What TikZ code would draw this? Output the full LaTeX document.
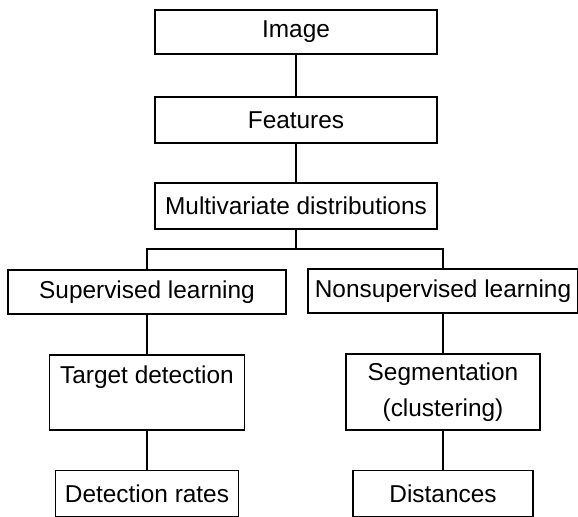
\documentclass[tikz,border=0pt]{standalone}
\usepackage{fontspec}
\setmainfont{Liberation Sans}
\usetikzlibrary{positioning,calc}

\tikzset{
  box/.style={draw, line width=0.8pt, inner sep=0pt, align=center,
    font=\fontsize{12.2}{18}\selectfont},
  link/.style={line width=0.7pt}
}

\begin{document}
\begin{tikzpicture}[x=0.5pt, y=-0.5pt]
    % frame of the page
    \useasboundingbox (0,0) rectangle (578,517);

    % top chain
    \node[box, minimum width=141pt, minimum height=22pt] (image) at (296, 32) {Image};
    \node[box, minimum width=141pt, minimum height=23pt] (features) at (296, 120) {Features};
    \node[box, minimum width=141pt, minimum height=23pt] (multi) at (296, 206) {Multivariate distributions};

    % two kinds of learning
    \node[box, minimum width=139pt, minimum height=22pt] (superv) at (147, 292) {Supervised learning};
    \node[box, minimum width=135pt, minimum height=22pt] (nonsup) at (443, 291) {Nonsupervised learning};

    % methods
    \node[box, minimum width=97.5pt, minimum height=37.5pt] (target) at (147, 392.5) {Target detection\\\mbox{}};
    \node[box, minimum width=97pt, minimum height=38pt] (segm) at (443, 392) {Segmentation\\(clustering)};

    % results
    \node[box, minimum width=91.5pt, minimum height=23pt] (rates) at (147, 493.5) {Detection rates};
    \node[box, minimum width=90pt, minimum height=23pt] (dist) at (443, 493.5) {Distances};

    % connectors
    \coordinate (fork) at (296, 249);
    \draw[link] (image) -- (features);
    \draw[link] (features) -- (multi);
    \draw[link] (multi) -- (fork);
    \draw[link] (fork) -| (superv);
    \draw[link] (fork) -| (nonsup);
    \draw[link] (superv) -- (target);
    \draw[link] (target) -- (rates);
    \draw[link] (nonsup) -- (segm);
    \draw[link] (segm) -- (dist);
\end{tikzpicture}
\end{document}
